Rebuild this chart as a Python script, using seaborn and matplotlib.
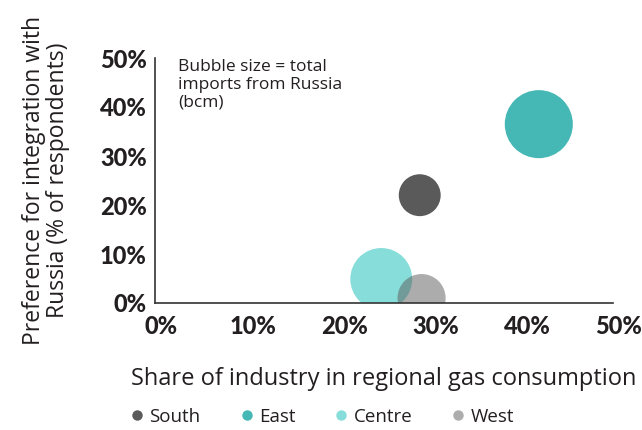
import pandas as pd
import matplotlib.pyplot as plt
import seaborn as sns
from matplotlib.lines import Line2D
from matplotlib.transforms import ScaledTranslation

# Regional data
regions = ['South', 'East', 'Centre', 'West']
industry_share = [28.9, 41.9, 24.7, 29.1]   # % of regional gas consumption
preference = [22.0, 36.5, 4.9, 1.0]          # % of respondents
imports_bcm = [4.4, 11.6, 9.6, 5.8]          # total imports from Russia
tick_values = [0, 10, 20, 30, 40, 50]
tick_labels = ['0%', '10%', '20%', '30%', '40%', '50%']

colors = {'South': '#5a5a5a', 'East': '#45b8b5', 'Centre': '#87ddd9', 'West': '#5a5a5a80'}
legend_colors = {'South': '#5a5a5a', 'East': '#45b8b5', 'Centre': '#87ddd9', 'West': '#adadad'}

df = pd.DataFrame({'region': regions, 'industry': industry_share,
                   'preference': preference, 'imports': imports_bcm})

sns.set_style('white')
plt.rcParams['font.family'] = ['Open Sans', 'DejaVu Sans']
text_color = '#231f20'

fig = plt.figure(figsize=(6.42, 4.30), dpi=100)
ax = fig.add_axes([155 / 642, 1 - 303 / 430, 458 / 642, 245 / 430])

max_imp = max(imports_bcm)
sns.scatterplot(data=df, x='industry', y='preference', hue='region', palette=colors,
                size='imports', sizes=(0, 207 * max_imp), size_norm=(0, max_imp),
                linewidth=0, legend=False, ax=ax)

ax.set_xlim(0, 50)
ax.set_ylim(0, 50)
tick_font = dict(fontsize=17, fontweight='black', color=text_color, family=['Lato', 'DejaVu Sans'])
ax.set_xticks(tick_values)
ax.set_xticklabels(tick_labels, **tick_font)
ax.set_yticks(tick_values)
ax.set_yticklabels(tick_labels, **tick_font)
ax.tick_params(axis='both', length=0)
ax.tick_params(axis='x', pad=9)
ax.tick_params(axis='y', pad=6)
for lab in ax.get_xticklabels():
    lab.set_transform(lab.get_transform() + ScaledTranslation(6 / 100, 0, fig.dpi_scale_trans))

sns.despine(ax=ax)
for side in ['left', 'bottom']:
    ax.spines[side].set_color('#333333')
    ax.spines[side].set_linewidth(1.2)

ax.set_xlabel('Share of industry in regional gas consumption', fontsize=17, color=text_color)
ax.xaxis.set_label_coords(0.5, -0.26)
ax.set_ylabel('Preference for integration with\nRussia (% of respondents)', fontsize=16.5,
              color=text_color, linespacing=1.0)
ax.yaxis.set_label_coords(-0.185, 0.5)

ax.text(0.05, 0.995, 'Bubble size = total\nimports from Russia\n(bcm)', transform=ax.transAxes,
        fontsize=12.5, color=text_color, va='top', ha='left', linespacing=1.15)

handles = [Line2D([0], [0], marker='o', linestyle='', markersize=7.5,
                  markerfacecolor=legend_colors[r], markeredgewidth=0) for r in regions]
fig.legend(handles, regions, loc='center left', bbox_to_anchor=(128 / 642, 1 - 417 / 430), ncol=4,
           frameon=False, fontsize=13.5, handletextpad=0.15, columnspacing=1.95,
           handlelength=1.0, labelcolor=text_color, borderaxespad=0.0, borderpad=0.0)

fig.savefig('out.png', dpi=100)
